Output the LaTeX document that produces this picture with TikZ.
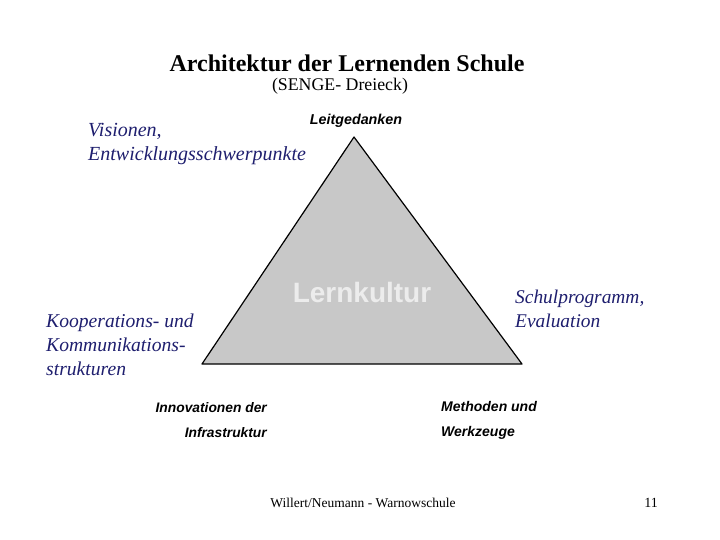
\documentclass[tikz,border=0pt]{standalone}
\usepackage{fontspec}
\setmainfont{Liberation Serif}
\setsansfont{Liberation Sans}
\usepackage{tikz}
\usepackage{xcolor}
\usetikzlibrary{positioning}
\definecolor{inkblue}{RGB}{30,30,110}
\definecolor{trifill}{RGB}{200,200,200}
\definecolor{trilabel}{RGB}{236,236,236}

\begin{document}
\begin{tikzpicture}[x=1pt, y=-1pt]
                        \useasboundingbox (0, 0) rectangle (720, 540);
                        \coordinate (top) at (354, 137);
                        \coordinate (left) at (202, 364);
                        \coordinate (right) at (522, 364);
                        \draw[fill=trifill, line width=1.2pt, line join=round] (top) -- (left) -- (right) -- cycle;
                        \node[inner sep=0pt, font=\bfseries\fontsize{24}{28}\selectfont] (title) at (347, 63) {Architektur der Lernenden Schule};
                        \node[inner sep=0pt, font=\fontsize{17.8}{20}\selectfont] (subtitle) at (340, 86) {(SENGE- Dreieck)};
                        \node[inner sep=0pt, font=\sffamily\bfseries\itshape\fontsize{14.3}{17}\selectfont] (lead) at (356, 121) {Leitgedanken};
                        \node[inner sep=0pt, anchor=west, align=left, text=inkblue, font=\itshape\fontsize{20}{24}\selectfont] (vision) at (88, 144) {Visionen,\\Entwicklungsschwerpunkte};
                        \node[inner sep=0pt, text=trilabel, font=\sffamily\bfseries\fontsize{28}{32}\selectfont] (kultur) at (362, 292) {Lernkultur};
                        \node[inner sep=0pt, anchor=west, align=left, text=inkblue, font=\itshape\fontsize{19.6}{24}\selectfont] (koop) at (46, 345) {Kooperations- und\\Kommunikations-\\strukturen};
                        \node[inner sep=0pt, anchor=west, align=left, text=inkblue, font=\itshape\fontsize{19.4}{24}\selectfont] (programm) at (515, 309) {Schulprogramm,\\Evaluation};
                        \node[inner sep=0pt, anchor=east, align=right, font=\sffamily\bfseries\itshape\fontsize{13.8}{25}\selectfont] (innov) at (267, 420) {Innovationen der\\Infrastruktur};
                        \node[inner sep=0pt, anchor=west, align=left, font=\sffamily\bfseries\itshape\fontsize{14}{25}\selectfont] (methoden) at (441, 420) {Methoden und\\Werkzeuge};
                        \node[inner sep=0pt, font=\fontsize{13.5}{16}\selectfont] (footer) at (363, 503) {Willert/Neumann - Warnowschule};
                        \node[inner sep=0pt, font=\fontsize{14}{16}\selectfont] (page) at (651, 503) {11};
                    \end{tikzpicture}
\end{document}
